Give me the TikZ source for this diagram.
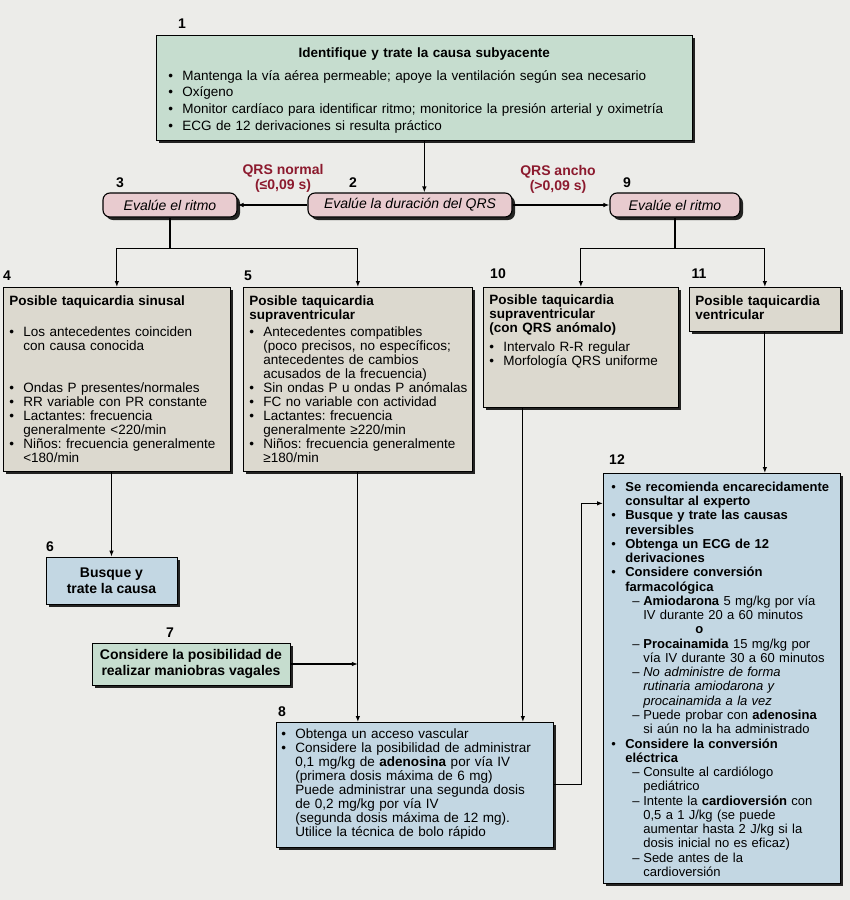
\documentclass[tikz,border=0pt]{standalone}
\usepackage{fontspec}
\setmainfont{Liberation Sans}
\usepackage{xcolor}
\usepackage{tikz}
\usetikzlibrary{arrows.meta, positioning, shadows}
\definecolor{paper}{HTML}{ECECE9}
\definecolor{sagegreen}{HTML}{C6DDCF}
\definecolor{beige}{HTML}{DCD9CF}
\definecolor{paleblue}{HTML}{C3D7E3}
\definecolor{rosepink}{HTML}{E8CBCF}
\definecolor{qrsred}{HTML}{8C1A2E}
\frenchspacing
\newcommand{\firstbul}{\rightskip=0pt minus 40pt\relax\hangindent=14pt\hangafter=1\makebox[14pt][l]{\textbullet}}
\newcommand{\bul}{\par\noindent\firstbul}
\newcommand{\dsh}{\par\rightskip=0pt minus 40pt\relax\noindent\hangindent=32pt\hangafter=1\hspace*{21pt}\makebox[11pt][l]{--}}

\begin{document}
\begin{tikzpicture}[x=1pt, y=-1pt,
    hardshadow/.style={drop shadow={shadow xshift=3pt, shadow yshift=-3pt, fill=black, opacity=0.85}},
    infobox/.style={rectangle, draw=black, line width=0.7pt, anchor=north west, hardshadow,
                    align=left, inner xsep=6pt, inner ysep=8pt, text height=10pt,
                    font=\fontsize{13.5}{14}\selectfont},
    actbox/.style={rectangle, draw=black, line width=0.7pt, align=center, hardshadow,
                   font=\fontsize{14}{16.5}\selectfont\bfseries},
    evalbox/.style={rectangle, rounded corners=7pt, draw=black, line width=1.1pt, hardshadow,
                    fill=rosepink, minimum height=24pt, inner sep=2pt,
                    font=\fontsize{14}{14}\selectfont\itshape},
    stepnum/.style={font=\fontsize{14}{14}\selectfont\bfseries, inner sep=0pt},
    qrslabel/.style={font=\fontsize{14}{15}\selectfont\bfseries, text=qrsred, align=center, inner sep=0pt},
    arrow/.style={-{Latex[length=6pt, width=4.5pt]}, line width=1.1pt},
    link/.style={line width=1.1pt}
]
    \fill[paper] (0,0) rectangle (850,900);

    \node[infobox, fill=sagegreen, inner xsep=12pt, inner ysep=12pt, text width=512pt, text depth=71pt,
          font=\fontsize{13.5}{16.8}\selectfont] (b1) at (156,35)
        {{\centering\bfseries Identifique y trate la causa subyacente\par}\vspace{6pt}
         \bul Mantenga la vía aérea permeable; apoye la ventilación según sea necesario
         \bul Oxígeno
         \bul Monitor cardíaco para identificar ritmo; monitorice la presión arterial y oximetría
         \bul ECG de 12 derivaciones si resulta práctico\par};

    \node[evalbox, minimum width=204pt] (n2) at (410,205) {Evalúe la duración del QRS};
    \node[evalbox, minimum width=134pt] (n3) at (170,205) {Evalúe el ritmo};
    \node[evalbox, minimum width=130pt] (n9) at (675,205) {Evalúe el ritmo};
    \node[qrslabel] (lnormal) at (283,178) {QRS normal\\(≤0,09 s)};
    \node[qrslabel] (lancho) at (558,179) {QRS ancho\\(>0,09 s)};

    \node[infobox, fill=beige, text width=215pt, text depth=158pt] (b4) at (3,287)
        {{\bfseries Posible taquicardia sinusal\par}\vspace{17pt}
         \bul Los antecedentes coinciden\newline con causa conocida
         \par\vspace{28pt}
         \bul Ondas P presentes/normales
         \bul RR variable con PR constante
         \bul Lactantes: frecuencia\newline generalmente <220/min
         \bul Niños: frecuencia generalmente\newline <180/min\par};
    \node[infobox, fill=beige, text width=217pt, text depth=158pt] (b5) at (243,287)
        {{\bfseries Posible taquicardia\newline supraventricular\par}\vspace{3pt}
         \bul Antecedentes compatibles\newline (poco precisos, no específicos;\newline antecedentes de cambios\newline acusados de la frecuencia)
         \bul Sin ondas P u ondas P anómalas
         \bul FC no variable con actividad
         \bul Lactantes: frecuencia\newline generalmente ≥220/min
         \bul Niños: frecuencia generalmente\newline ≥180/min\par};
    \node[infobox, fill=beige, inner ysep=7pt, text width=183pt, text depth=96pt] (b10) at (483,287)
        {{\bfseries Posible taquicardia\newline supraventricular\newline (con QRS anómalo)\par}\vspace{5pt}
         \bul Intervalo R-R regular
         \bul Morfología QRS uniforme\par};
    \node[infobox, fill=beige, text width=139pt, text depth=18pt] (b11) at (689,287)
        {{\bfseries Posible taquicardia\newline ventricular\par}};

    \node[actbox, fill=paleblue, minimum width=131pt, minimum height=47pt] (b6) at (111.5,580.5)
        {Busque y\\trate la causa};
    \node[actbox, fill=sagegreen, minimum width=198pt, minimum height=42pt] (b7) at (191,664)
        {Considere la posibilidad de\\realizar maniobras vagales};

    \node[infobox, fill=paleblue, inner xsep=5pt, inner ysep=6pt, text width=267pt, text depth=103pt] (b8) at (276,722)
        {\firstbul Obtenga un acceso vascular
         \bul Considere la posibilidad de administrar\newline 0,1 mg/kg de \textbf{adenosina} por vía IV\newline (primera dosis máxima de 6 mg)\newline Puede administrar una segunda dosis\newline de 0,2 mg/kg por vía IV\newline (segunda dosis máxima de 12 mg).\newline Utilice la técnica de bolo rápido\par};

    \node[infobox, fill=paleblue, inner xsep=8pt, text width=221pt, text depth=384pt,
          font=\fontsize{13}{14.26}\selectfont] (b12) at (603,473)
        {\firstbul \textbf{Se recomienda encarecidamente\newline consultar al experto}
         \bul \textbf{Busque y trate las causas\newline reversibles}
         \bul \textbf{Obtenga un ECG de 12\newline derivaciones}
         \bul \textbf{Considere conversión\newline farmacológica}
         \dsh \textbf{Amiodarona} 5 mg/kg por vía\newline IV durante 20 a 60 minutos
         \par\noindent\hspace*{84pt}\textbf{o}
         \dsh \textbf{Procainamida} 15 mg/kg por\newline vía IV durante 30 a 60 minutos
         \dsh \textit{No administre de forma\newline rutinaria amiodarona y\newline procainamida a la vez}
         \dsh Puede probar con \textbf{adenosina}\newline si aún no la ha administrado
         \bul \textbf{Considere la conversión\newline eléctrica}
         \dsh Consulte al cardiólogo\newline pediátrico
         \dsh Intente la \textbf{cardioversión} con\newline 0,5 a 1 J/kg (se puede\newline aumentar hasta 2 J/kg si la\newline dosis inicial no es eficaz)
         \dsh Sede antes de la\newline cardioversión\par};

    \node[stepnum] (num1) at (182,24) {1};
    \node[stepnum] (num2) at (353,183) {2};
    \node[stepnum] (num3) at (120,183) {3};
    \node[stepnum] (num4) at (7,276) {4};
    \node[stepnum] (num5) at (248,276) {5};
    \node[stepnum] (num6) at (50,547) {6};
    \node[stepnum] (num7) at (170,633) {7};
    \node[stepnum] (num8) at (282,712) {8};
    \node[stepnum] (num9) at (627,183) {9};
    \node[stepnum] (num10) at (498,274) {10};
    \node[stepnum] (num11) at (699,274) {11};
    \node[stepnum] (num12) at (617,460) {12};

    \coordinate[below=31pt of n3.south] (j3);
    \coordinate[below=31pt of n9.south] (j9);
    \coordinate (v7) at (b5 |- b7);
    \coordinate[left=58pt of b10.south] (o10);
    \coordinate[above=175pt of b12.west] (i12);

    \draw[arrow] (b1) -- (b1 |- n2.north);
    \draw[arrow] (n2) -- (n3);
    \draw[arrow] (n2) -- (n9);
    \draw[link] (n3) -- (j3);
    \draw[arrow] (j3) -| (b4);
    \draw[arrow] (j3) -| (b5);
    \draw[link] (n9) -- (j9);
    \draw[arrow] (j9) -| (b10);
    \draw[arrow] (j9) -| (b11);
    \draw[arrow] (b4.south -| b6) -- (b6);
    \draw[arrow] (b5) -- (b5 |- b8.north);
    \draw[arrow] (b7) -- (v7);
    \draw[arrow] (o10) -- (o10 |- b8.north);
    \draw[arrow] (b11) -- (b11 |- b12.north);
    \draw[arrow] (b8.east) -- ++(28,0) |- (i12);
\end{tikzpicture}
\end{document}
